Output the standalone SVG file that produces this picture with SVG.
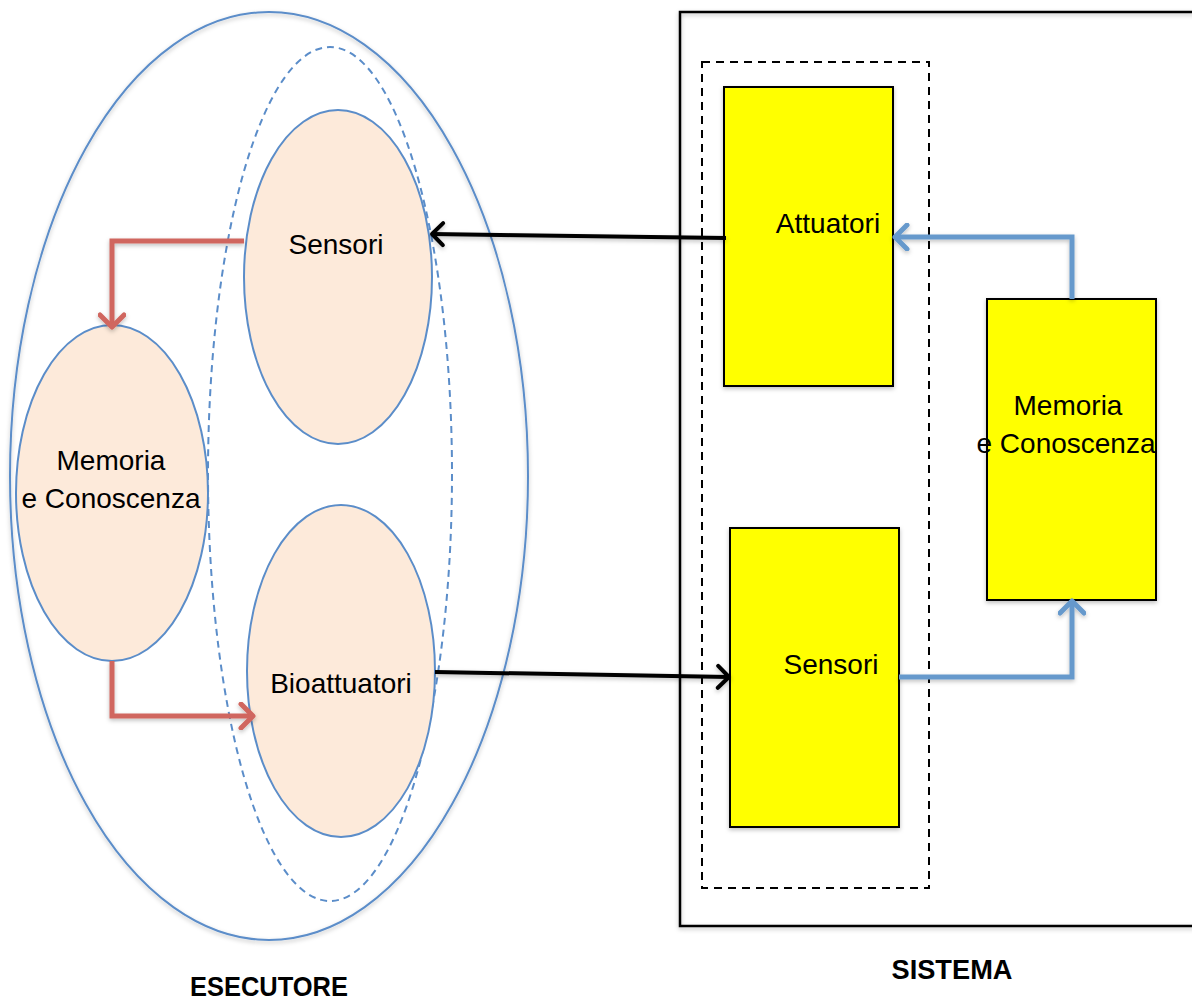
<svg xmlns="http://www.w3.org/2000/svg" width="1192" height="1003" viewBox="0 0 1192 1003">
<defs>
<filter id="sh" x="-10%" y="-10%" width="130%" height="130%"><feDropShadow dx="0" dy="2" stdDeviation="2" flood-color="#000" flood-opacity="0.25"/></filter>
<marker id="aRed" viewBox="0 0 28 28" refX="25" refY="14" markerWidth="28" markerHeight="28" markerUnits="userSpaceOnUse" orient="auto"><path d="M13,2 L25,14 L13,26" fill="none" stroke="#D0665E" stroke-width="5" stroke-linecap="round" stroke-linejoin="round"/></marker>
<marker id="aBlue" viewBox="0 0 28 28" refX="25" refY="14" markerWidth="28" markerHeight="28" markerUnits="userSpaceOnUse" orient="auto"><path d="M13,2 L25,14 L13,26" fill="none" stroke="#6699CC" stroke-width="5" stroke-linecap="round" stroke-linejoin="round"/></marker>
<marker id="aBlack" viewBox="0 0 28 28" refX="25" refY="14" markerWidth="28" markerHeight="28" markerUnits="userSpaceOnUse" orient="auto"><path d="M14,3 L25,14 L14,25" fill="none" stroke="#000" stroke-width="4" stroke-linecap="round" stroke-linejoin="round"/></marker>
</defs>
<style>
.lbl{font-family:"Liberation Sans",Arial,sans-serif;font-size:28px;fill:#000;text-anchor:middle}
.ttl{font-family:"Liberation Sans",Arial,sans-serif;font-size:28px;font-weight:bold;fill:#000;text-anchor:middle}
.ell{fill:#FDEADA;stroke:#5B8DC9;stroke-width:2}
.box{fill:#FFFF00;stroke:#000;stroke-width:2}
.red{fill:none;stroke:#D0665E;stroke-width:5;marker-end:url(#aRed)}
.blue{fill:none;stroke:#6699CC;stroke-width:5;marker-end:url(#aBlue)}
.blk{fill:none;stroke:#000;stroke-width:4;marker-end:url(#aBlack)}
</style>
<rect width="1192" height="1003" fill="#fff"/>

<g id="esecutore">
<ellipse cx="269" cy="476" rx="259" ry="464" fill="none" stroke="#5B8DC9" stroke-width="2" filter="url(#sh)"/>
<ellipse cx="330" cy="474" rx="122" ry="427" fill="none" stroke="#5B8DC9" stroke-width="2" stroke-dasharray="7,5"/>
<text class="ttl" x="269" y="996" textLength="158" lengthAdjust="spacingAndGlyphs">ESECUTORE</text>
</g>

<g id="sensori-esec">
<ellipse class="ell" cx="338" cy="277" rx="94" ry="167"/>
<text class="lbl" x="336" y="254">Sensori</text>
</g>

<g id="memoria-esec">
<ellipse class="ell" cx="112" cy="493" rx="96" ry="168"/>
<text class="lbl" x="111" y="470">Memoria</text>
<text class="lbl" x="111" y="508">e Conoscenza</text>
</g>

<g id="bioattuatori">
<ellipse class="ell" cx="341" cy="671" rx="94" ry="166"/>
<text class="lbl" x="341" y="693">Bioattuatori</text>
</g>

<g id="sistema">
<rect x="680" y="12" width="530" height="914" fill="none" stroke="#000" stroke-width="2.5" filter="url(#sh)"/>
<rect x="702" y="62" width="227" height="826" fill="none" stroke="#000" stroke-width="2" stroke-dasharray="8,6"/>
<text class="ttl" x="952" y="979" textLength="121" lengthAdjust="spacingAndGlyphs">SISTEMA</text>
</g>

<g id="attuatori">
<rect class="box" x="724" y="87" width="169" height="299" filter="url(#sh)"/>
<text class="lbl" x="828" y="233">Attuatori</text>
</g>

<g id="sensori-sist">
<rect class="box" x="730" y="528" width="169" height="299" filter="url(#sh)"/>
<text class="lbl" x="831" y="674">Sensori</text>
</g>

<g id="memoria-sist">
<rect class="box" x="987" y="299" width="169" height="301" filter="url(#sh)"/>
<text class="lbl" x="1068" y="415">Memoria</text>
<text class="lbl" x="1066" y="453">e Conoscenza</text>
</g>

<g id="connectors" filter="url(#sh)">
<path class="red" d="M244,241 H112 V327"/>
<path class="red" d="M112,661 V716 H253"/>
<path class="blk" d="M726,238 L432,234"/>
<path class="blk" d="M435,672 L729,677"/>
<path class="blue" d="M1072,299 V237 H895"/>
<path class="blue" d="M899,677 H1072 V601"/>
</g>
</svg>
